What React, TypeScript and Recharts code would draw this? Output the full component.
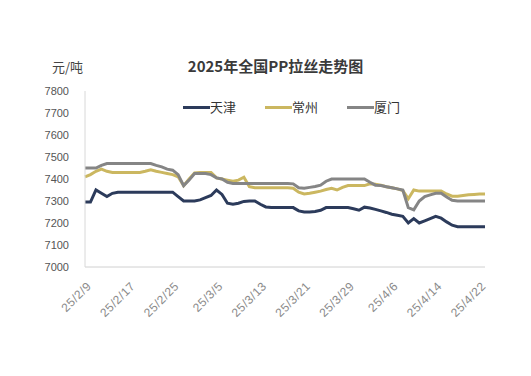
import React from "react";
import { LineChart, Line, XAxis, YAxis } from "recharts";

const dates = [
  "25/2/9","25/2/10","25/2/11","25/2/12","25/2/13","25/2/14","25/2/15","25/2/16",
  "25/2/17","25/2/18","25/2/19","25/2/20","25/2/21","25/2/22","25/2/23","25/2/24",
  "25/2/25","25/2/26","25/2/27","25/2/28","25/3/1","25/3/2","25/3/3","25/3/4",
  "25/3/5","25/3/6","25/3/7","25/3/8","25/3/9","25/3/10","25/3/11","25/3/12",
  "25/3/13","25/3/14","25/3/15","25/3/16","25/3/17","25/3/18","25/3/19","25/3/20",
  "25/3/21","25/3/22","25/3/23","25/3/24","25/3/25","25/3/26","25/3/27","25/3/28",
  "25/3/29","25/3/30","25/3/31","25/4/1","25/4/2","25/4/3","25/4/4","25/4/5",
  "25/4/6","25/4/7","25/4/8","25/4/9","25/4/10","25/4/11","25/4/12","25/4/13",
  "25/4/14","25/4/15","25/4/16","25/4/17","25/4/18","25/4/19","25/4/20","25/4/21",
  "25/4/22","25/4/23",
];

const tianjin = [
  7295,7295,7350,7335,7320,7335,7340,7340,
  7340,7340,7340,7340,7340,7340,7340,7340,
  7340,7320,7300,7300,7300,7305,7315,7325,
  7350,7330,7290,7285,7290,7298,7300,7300,
  7285,7273,7270,7270,7270,7270,7270,7255,
  7250,7250,7252,7258,7270,7270,7270,7270,
  7270,7265,7258,7272,7268,7262,7255,7248,
  7240,7235,7230,7200,7220,7200,7210,7220,
  7230,7222,7205,7190,7183,7183,7183,7183,
  7183,7183,
];

const changzhou = [
  7410,7420,7435,7445,7435,7430,7430,7430,
  7430,7430,7430,7435,7442,7435,7430,7425,
  7420,7410,7370,7400,7428,7430,7430,7430,
  7405,7400,7395,7390,7395,7408,7365,7360,
  7360,7360,7360,7360,7360,7360,7358,7340,
  7332,7335,7340,7345,7352,7358,7350,7362,
  7370,7370,7370,7370,7378,7376,7372,7365,
  7360,7355,7348,7310,7350,7345,7345,7345,
  7345,7345,7332,7322,7322,7325,7328,7330,
  7332,7332,
];

const xiamen = [
  7450,7450,7450,7462,7470,7470,7470,7470,
  7470,7470,7470,7470,7470,7462,7455,7445,
  7440,7420,7370,7395,7425,7425,7425,7420,
  7405,7400,7385,7380,7380,7380,7380,7380,
  7380,7380,7380,7380,7380,7380,7378,7360,
  7358,7362,7366,7372,7390,7400,7400,7400,
  7400,7400,7400,7400,7385,7372,7370,7365,
  7360,7355,7350,7270,7260,7300,7320,7328,
  7335,7335,7318,7303,7300,7300,7300,7300,
  7300,7300,
];

const yTicks = [7000, 7100, 7200, 7300, 7400, 7500, 7600, 7700, 7800];

const seriesNames = ["天津", "常州", "厦门"];
const seriesColors = ["#2c3b5b", "#cbb760", "#858585"];

const data = dates.map((d, i) => ({
  date: d,
  tianjin: tianjin[i],
  changzhou: changzhou[i],
  xiamen: xiamen[i],
}));

const XTick = (props: any) => {
  const { x, y, payload } = props;
  return (
    <g transform={`translate(${x + 4},${y + 9})`}>
      <text
        transform="rotate(-45)"
        textAnchor="end"
        dy="0.35em"
        fontSize={12}
        fill="#8a8a8a"
        fontFamily="Liberation Sans, Arial, sans-serif"
        letterSpacing={0.5}
      >
        {payload.value}
      </text>
    </g>
  );
};

const LegendBlock = () => (
  <div style={{ position: "absolute", left: 0, top: 99, width: 531, height: 16 }}>
    {seriesNames.map((n, i) => (
      <div
        key={n}
        style={{
          position: "absolute",
          left: 183 + i * 82,
          top: 0,
          display: "flex",
          alignItems: "center",
          height: 16,
        }}
      >
        <div style={{ width: 27, height: 3, background: seriesColors[i] }} />
        <span
          style={{
            fontSize: 13,
            color: "#333",
            fontFamily: "'Noto Sans CJK SC', sans-serif",
            lineHeight: "16px",
          }}
        >
          {n}
        </span>
      </div>
    ))}
  </div>
);

export default function App() {
  return (
    <div style={{ position: "absolute", left: 0, top: 0, width: 531, height: 376, background: "#fff" }}>
      <div
        style={{
          position: "absolute",
          left: 0,
          width: 531,
          top: 56,
          textAlign: "center",
          paddingLeft: 20,
          boxSizing: "border-box",
          fontSize: 15,
          fontWeight: "bold",
          color: "#3a3a3a",
          fontFamily: "'Noto Sans CJK SC', sans-serif",
          lineHeight: "20px",
        }}
      >
        2025年全国PP拉丝走势图
      </div>
      <div
        style={{
          position: "absolute",
          left: 52,
          top: 58,
          fontSize: 13,
          color: "#444",
          fontFamily: "'Noto Sans CJK SC', sans-serif",
          lineHeight: "18px",
        }}
      >
        元/吨
      </div>
      <LegendBlock />
      <div style={{ position: "absolute", left: 0, top: 0 }}>
        <LineChart
          width={531}
          height={376}
          data={data}
          margin={{ top: 91, right: 46, bottom: 49, left: 45 }}
        >
          <XAxis
            dataKey="date"
            interval={7}
            height={60}
            tick={<XTick />}
            tickLine={false}
            axisLine={{ stroke: "#d0d0d0" }}
            padding={{ left: 0, right: 0 }}
          />
          <YAxis
            width={40}
            domain={[7000, 7800]}
            ticks={yTicks}
            interval={0}
            tickLine={false}
            tickMargin={10}
            axisLine={{ stroke: "#d8d8d8" }}
            tick={{ fontSize: 11, fill: "#555", fontFamily: "Liberation Sans, Arial, sans-serif" }}
          />
          <Line
            type="linear"
            dataKey="tianjin"
            name="天津"
            stroke={seriesColors[0]}
            strokeWidth={3}
            dot={false}
            isAnimationActive={false}
          />
          <Line
            type="linear"
            dataKey="changzhou"
            name="常州"
            stroke={seriesColors[1]}
            strokeWidth={3}
            dot={false}
            isAnimationActive={false}
          />
          <Line
            type="linear"
            dataKey="xiamen"
            name="厦门"
            stroke={seriesColors[2]}
            strokeWidth={3}
            dot={false}
            isAnimationActive={false}
          />
        </LineChart>
      </div>
    </div>
  );
}
